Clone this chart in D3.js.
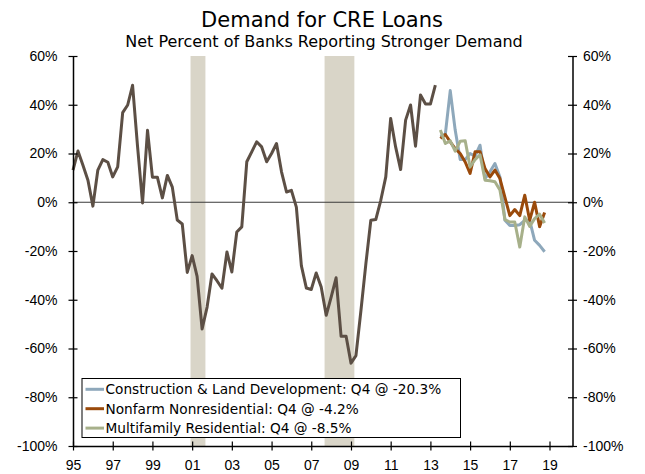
<!DOCTYPE html>
<html>
<head>
<meta charset="utf-8">
<script src="https://cdn.jsdelivr.net/npm/d3@7"></script>
<style>
    body { margin: 0; background: #fff; }
    svg { font-family: "DejaVu Sans", Verdana, sans-serif; }
</style>
</head>
<body>
<div id="chart"></div>
<script>
// quarterly survey readings, net % of banks reporting stronger demand
// aggregate CRE series, 1995Q1 - 2013Q2
const creAll = [13.2, 21, 15.2, 9, -1.6, 13.2, 17.5, 16.4, 10.4, 14.5,
    36.8, 39.9, 48, 23, -0.3, 29.5, 10.3, 10.3, 1.8, 11,
    6.2, -7.3, -8.9, -28.8, -21.9, -30.4, -52, -43, -29.4, -32.2,
    -35.3, -20.4, -28.6, -12.2, -10.1, 16.6, 20.7, 24.8, 22.7, 16.6,
    20, 24.1, 12.5, 4.2, 4.9, -2, -26, -35.2, -35.8, -29,
    -34.8, -46.4, -38.9, -31, -55, -55, -66, -62.9, -44.4, -25,
    -7.4, -7.1, 0.8, 10.4, 34.4, 22.7, 13.4, 33.7, 39.9, 23,
    44, 40.3, 40.3, 48.1];

// breakdown by category, 2013Q3 - 2018Q4
const construction = [27, 28, 45.8, 29.6, 17.5, 17.5, 20, 18.9, 23.4, 9.7,
    12.5, 15.9, 10.4, -7.4, -9.5, -9.5, -9.2, -7.4, -7.4, -15.6, -17.7, -20.3];
const nonfarm = [26.2, 27.8, 24.8, 22, 20, 16.5, 11.8, 20.7, 20.7, 13.8,
    10.4, 13.2, 9.7, 2, -5.5, -3, -5.5, 2.9, -7.4, 0, -10, -4.2];
const multifamily = [29.6, 24.1, 25.2, 21, 25, 25.2, 14.5, 17.5, 19.5, 9,
    8.8, 8.4, 5, -7.1, -8.1, -8.1, -18.4, -6, -9.9, -6.7, -4.9, -8.5];

const yTicks = [60, 40, 20, 0, -20, -40, -60, -80, -100];
const xTickYears = [1995, 1997, 1999, 2001, 2003, 2005, 2007, 2009, 2011, 2013, 2015, 2017, 2019];
const recessions = [["2001-03-01", "2001-11-30"], ["2007-12-01", "2009-06-01"]];

const seriesNames = [
    "Construction & Land Development: Q4 @ -20.3%",
    "Nonfarm Nonresidential: Q4 @ -4.2%",
    "Multifamily Residential: Q4 @ -8.5%"
];
const seriesColors = ["#8ea8bb", "#9a4a0b", "#a7b08a"];

// end-of-quarter date, i quarters after (year, q)
function quarterEnd(year, q, i) {
    const n = year * 4 + (q - 1) + i;
    return new Date(Math.floor(n / 4), (n % 4) * 3 + 3, 0);
}

const width = 645,
    height = 474;
const margin = { top: 56, right: 72.5, bottom: 28, left: 73 };

const svg = d3.select("#chart")
    .append("svg")
    .attr("width", width)
    .attr("height", height);

const x = d3.scaleTime()
    .domain([new Date(1995, 2, 31), new Date(2020, 4, 27)])
    .range([margin.left, width - margin.right]);

const y = d3.scaleLinear()
    .domain([-100, 60])
    .range([height - margin.bottom, margin.top]);

// recession shading
svg.selectAll(".recession")
    .data(recessions)
    .join("rect")
    .attr("x", d => x(new Date(d[0])))
    .attr("width", d => x(new Date(d[1])) - x(new Date(d[0])))
    .attr("y", y(60))
    .attr("height", y(-100) - y(60))
    .attr("fill", "#d9d5c8");

// zero line
svg.append("line")
    .attr("x1", x.range()[0])
    .attr("x2", x.range()[1])
    .attr("y1", y(0))
    .attr("y2", y(0))
    .attr("stroke", "#3a3a3a")
    .attr("stroke-width", 1.2);

const line = d3.line()
    .x(d => x(d.date))
    .y(d => y(d.value));

const creData = creAll.map((v, i) => ({ date: quarterEnd(1995, 1, i), value: v }));
svg.append("path")
    .datum(creData)
    .attr("fill", "none")
    .attr("stroke", "#5c4f45")
    .attr("stroke-width", 3)
    .attr("stroke-linejoin", "round")
    .attr("d", line);

[construction, nonfarm, multifamily].forEach((s, k) => {
    svg.append("path")
        .datum(s.map((v, i) => ({ date: quarterEnd(2013, 3, i), value: v })))
        .attr("fill", "none")
        .attr("stroke", seriesColors[k])
        .attr("stroke-width", 3)
        .attr("stroke-linejoin", "round")
        .attr("d", line);
});

// axes, ticks cross the axis line
function styleAxis(g, horizontal) {
    g.select(".domain").attr("stroke", "#000").attr("stroke-width", 1.5);
    g.selectAll(".tick line")
        .attr("stroke", "#000")
        .attr("stroke-width", 1.2)
        .attr(horizontal ? "y1" : "x1", -4.5)
        .attr(horizontal ? "y2" : "x2", 4.5);
    g.selectAll(".tick text").attr("fill", "#000").style("font-size", "14px");
}

svg.append("g")
    .attr("transform", `translate(${margin.left},0)`)
    .call(d3.axisLeft(y).tickValues(yTicks).tickFormat(d => d + "%").tickSize(4.5).tickSizeOuter(0).tickPadding(11))
    .call(g => styleAxis(g, false));

svg.append("g")
    .attr("transform", `translate(${width - margin.right},0)`)
    .call(d3.axisRight(y).tickValues(yTicks).tickFormat(d => d + "%").tickSize(4.5).tickSizeOuter(0).tickPadding(6))
    .call(g => styleAxis(g, false));

svg.append("g")
    .attr("transform", `translate(0,${height - margin.bottom})`)
    .call(d3.axisBottom(x)
        .tickValues(xTickYears.map(yr => new Date(yr, 2, 31)))
        .tickFormat(d3.timeFormat("%y"))
        .tickSize(4.5).tickSizeOuter(0).tickPadding(10))
    .call(g => styleAxis(g, true));

// titles
svg.append("text")
    .attr("x", 322)
    .attr("y", 27)
    .attr("text-anchor", "middle")
    .style("font-size", "21px")
    .text("Demand for CRE Loans");

svg.append("text")
    .attr("x", 324)
    .attr("y", 47)
    .attr("text-anchor", "middle")
    .style("font-size", "16px")
    .text("Net Percent of Banks Reporting Stronger Demand");

// legend
const legend = svg.append("g").attr("transform", "translate(82,378.5)");
legend.append("rect")
    .attr("width", 378.5)
    .attr("height", 59)
    .attr("fill", "#fff")
    .attr("stroke", "#000")
    .attr("stroke-width", 1);

const items = legend.selectAll(".item")
    .data(seriesNames)
    .join("g")
    .attr("transform", (d, i) => `translate(0,${10.8 + i * 19.4})`);

items.append("line")
    .attr("x1", 3.5)
    .attr("x2", 22)
    .attr("stroke", (d, i) => seriesColors[i])
    .attr("stroke-width", 3);

items.append("text")
    .attr("x", 23.5)
    .attr("dy", "0.36em")
    .style("font-size", "13.7px")
    .text(d => d);
</script>
</body>
</html>
